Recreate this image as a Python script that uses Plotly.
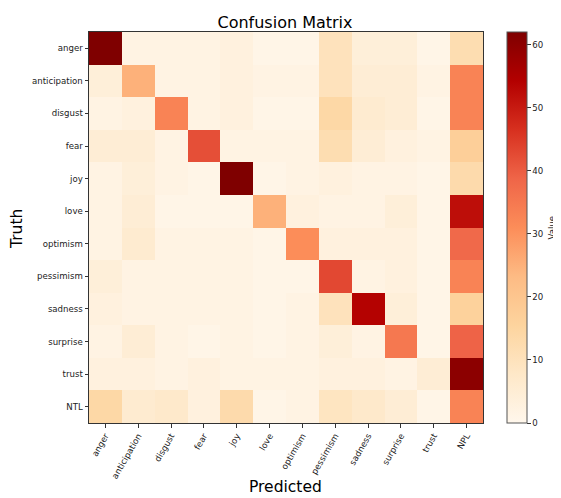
import plotly.graph_objects as go

pred_labels = ["anger", "anticipation", "disgust", "fear", "joy", "love", "optimism",
               "pessimism", "sadness", "surprise", "trust", "NPL"]
truth_labels = ["anger", "anticipation", "disgust", "fear", "joy", "love", "optimism",
                "pessimism", "sadness", "surprise", "trust", "NTL"]

row_anger = [62, 2, 2, 2, 3, 1, 1, 10, 4, 4, 1, 12]
row_anticipation = [4, 25, 2, 2, 3, 2, 2, 10, 5, 5, 2, 33]
row_disgust = [2, 3, 33, 2, 3, 1, 1, 14, 6, 5, 1, 33]
row_fear = [5, 5, 2, 42, 2, 2, 2, 12, 5, 3, 2, 17]
row_joy = [2, 4, 2, 1, 62, 1, 2, 3, 2, 2, 1, 13]
row_love = [2, 5, 1, 1, 1, 25, 3, 2, 2, 4, 1, 52]
row_optimism = [2, 6, 2, 2, 2, 1, 31, 3, 3, 3, 1, 38]
row_pessimism = [4, 2, 2, 2, 2, 1, 1, 43, 2, 3, 1, 33]
row_sadness = [3, 2, 2, 2, 2, 1, 2, 10, 54, 4, 1, 16]
row_surprise = [2, 5, 2, 1, 2, 1, 2, 4, 2, 35, 1, 39]
row_trust = [3, 3, 2, 3, 2, 2, 2, 3, 3, 2, 5, 60]
row_ntl = [14, 6, 7, 3, 13, 1, 2, 9, 7, 5, 1, 33]

z = [row_anger, row_anticipation, row_disgust, row_fear, row_joy, row_love,
     row_optimism, row_pessimism, row_sadness, row_surprise, row_trust, row_ntl]

# page body has an 8px margin, so the figure is offset by 8px
OFF = 8
W, H = 561 - OFF, 498 - OFF
L, R, T, B = 89 - OFF, 78, 32 - OFF, 75
pw = W - L - R
ph = H - T - B


def px_x(page_x):
    return (page_x - OFF - L) / pw


def px_y(page_y):
    return 1 - (page_y - OFF - T) / ph


fig = go.Figure(go.Heatmap(
    z=z, x=pred_labels, y=truth_labels,
    colorscale="OrRd", zmin=0, zmax=62,
    colorbar=dict(
        x=px_x(507), xanchor="left", xref="paper", xpad=0,
        y=0, yanchor="bottom", len=1, lenmode="fraction", ypad=0,
        thickness=20, thicknessmode="pixels",
        outlinecolor="#555555", outlinewidth=1,
        tickvals=[0, 10, 20, 30, 40, 50, 60],
        ticks="outside", ticklen=3.5, tickcolor="#333333",
        tickfont=dict(size=8.6, color="#222222"),
    ),
))

fig.update_layout(
    width=W, height=H,
    margin=dict(l=L, r=R, t=T, b=B),
    paper_bgcolor="white", plot_bgcolor="white",
    font=dict(family="DejaVu Sans", color="black"),
    title=dict(text="Confusion Matrix", x=px_x(285), xref="paper", xanchor="center",
               y=1 - (22 - OFF) / H, yanchor="middle", font=dict(size=16, color="black")),
    annotations=[
        dict(text="Predicted", x=px_x(285.5), y=px_y(487),
             xref="paper", yref="paper", xanchor="center", yanchor="middle",
             showarrow=False, font=dict(size=15.5, color="black")),
        dict(text="Truth", x=px_x(17), y=px_y(229),
             xref="paper", yref="paper", xanchor="center", yanchor="middle",
             textangle=-90, showarrow=False, font=dict(size=15.5, color="black")),
        dict(text="Value", x=px_x(551), y=0.5,
             xref="paper", yref="paper", xanchor="center", yanchor="middle",
             textangle=-90, showarrow=False, font=dict(size=8.6, color="#222222")),
    ],
)
fig.update_xaxes(
    tickangle=-60, tickfont=dict(size=8.6, color="#222222"),
    ticks="outside", ticklen=3.5, tickcolor="#333333",
    showline=True, linecolor="#333333", linewidth=1, mirror=True,
    showgrid=False, zeroline=False, automargin=False,
)
fig.update_yaxes(
    autorange="reversed", tickfont=dict(size=8.6, color="#222222"),
    ticks="outside", ticklen=3.5, tickcolor="#333333",
    showline=True, linecolor="#333333", linewidth=1, mirror=True,
    showgrid=False, zeroline=False, automargin=False,
)

fig.write_html("out.html")
